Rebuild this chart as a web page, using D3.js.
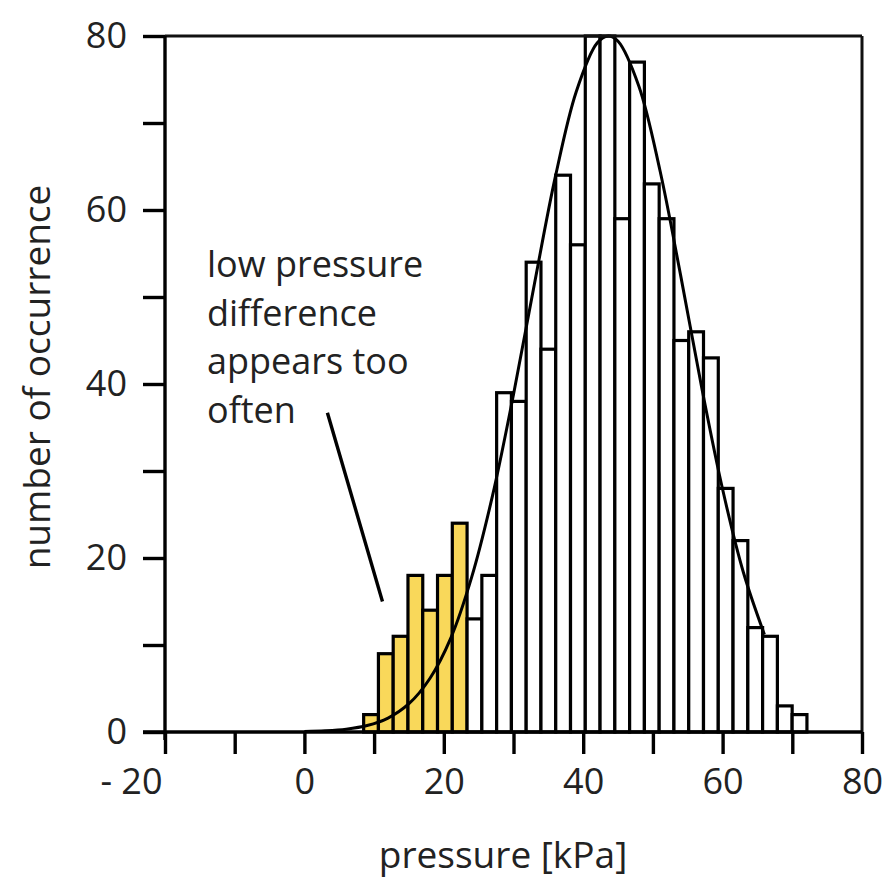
<!DOCTYPE html>
<html>
<head>
<meta charset="utf-8">
<script src="https://cdn.jsdelivr.net/npm/d3@7"></script>
<style>
  html, body { margin: 0; padding: 0; background: #ffffff; }
  svg { display: block; }
</style>
</head>
<body>
<script>
// ---- data ----
const binStart = 8.5;      // kPa, left edge of first bin
const binWidth = 2.12;     // kPa per bin
const counts = [2, 9, 11, 18, 14, 18, 24,
                13, 18, 39, 38, 54, 44, 64, 56, 80, 80, 59, 77, 63, 59,
                45, 46, 43, 28, 22, 12, 11, 3, 2];
const highlightedBins = 7; // first bins drawn in yellow
const curveX = [0, 3, 6, 9, 12, 15, 18, 21, 24, 27, 30, 33, 36, 39, 42, 43.6, 45, 48, 51, 54, 57, 60, 63, 66];
const curveY = [0.05, 0.13, 0.32, 0.74, 1.6, 3.25, 6.15, 10.8, 17.8, 27.2, 38.8, 51.5, 63.8, 73.6, 79.2, 80, 79.4, 74.2, 64.6, 52.4, 39.6, 27.9, 18.3, 11.2];
const xTicks = [-20, -10, 0, 10, 20, 30, 40, 50, 60, 70, 80];
const xTickLabels = ["- 20", "", "0", "", "20", "", "40", "", "60", "", "80"];
const yTicks = [0, 10, 20, 30, 40, 50, 60, 70, 80];
const yTickLabels = ["0", "", "20", "", "40", "", "60", "", "80"];
const annotationLines = ["low pressure", "difference", "appears too", "often"];
const annotationPointer = [[3.3, 36.7], [11.2, 15.0]]; // [kPa, count] start -> end
const xTitle = "pressure [kPa]";
const yTitle = "number of occurrence";

// ---- layout ----
const W = 884, H = 885;
const mLeft = 165, mRight = 862, mTop = 36, mBottom = 732;
const font = "'Open Sans', 'DejaVu Sans', sans-serif";
const textColor = "#222";

const svg = d3.select("body").append("svg").attr("width", W).attr("height", H);

const x = d3.scaleLinear().domain([-20, 80]).range([mLeft, mRight]);
const y = d3.scaleLinear().domain([0, 80]).range([mBottom, mTop]);

// bars
const bars = counts.map((c, i) => ({
  x0: binStart + i * binWidth,
  x1: binStart + (i + 1) * binWidth,
  c: c,
  hi: i < highlightedBins
}));
svg.append("g").selectAll("rect").data(bars).join("rect")
  .attr("x", d => x(d.x0))
  .attr("y", d => y(Math.min(d.c, 80)))
  .attr("width", d => x(d.x1) - x(d.x0))
  .attr("height", d => y(0) - y(Math.min(d.c, 80)))
  .attr("fill", d => d.hi ? "#f9d85a" : "#ffffff")
  .attr("stroke", "#000")
  .attr("stroke-width", 3.2);

// fitted curve
const line = d3.line().x(d => x(d[0])).y(d => y(d[1])).curve(d3.curveCatmullRom);
svg.append("path")
  .datum(curveX.map((v, i) => [v, curveY[i]]))
  .attr("d", line)
  .attr("fill", "none")
  .attr("stroke", "#000")
  .attr("stroke-width", 3);

// frame (top + right)
svg.append("line").attr("x1", mLeft).attr("x2", mRight).attr("y1", mTop).attr("y2", mTop)
  .attr("stroke", "#111").attr("stroke-width", 3);
svg.append("line").attr("x1", mRight).attr("x2", mRight).attr("y1", mTop).attr("y2", mBottom)
  .attr("stroke", "#111").attr("stroke-width", 3);

// x axis
const xAxis = d3.axisBottom(x).tickValues(xTicks).tickSize(22).tickPadding(14)
  .tickFormat((d, i) => xTickLabels[i]);
const gx = svg.append("g").attr("transform", `translate(0,${mBottom})`).call(xAxis);
gx.select(".domain").attr("d", `M${mLeft - 22},0H${mRight}`);
gx.selectAll("line, path").attr("stroke", "#000").attr("stroke-width", 3.4);
gx.selectAll("text").attr("font-family", font).attr("font-size", 36).attr("fill", textColor);
gx.selectAll(".tick text").filter(d => d === -20).attr("text-anchor", "end").attr("dx", -3);

// y axis
const yAxis = d3.axisLeft(y).tickValues(yTicks).tickSize(22).tickPadding(16)
  .tickFormat((d, i) => yTickLabels[i]);
const gy = svg.append("g").attr("transform", `translate(${mLeft},0)`).call(yAxis);
gy.select(".domain").attr("d", `M0,${mTop}V${mBottom + 8}`);
gy.selectAll("line, path").attr("stroke", "#000").attr("stroke-width", 3.4);
gy.selectAll("text").attr("font-family", font).attr("font-size", 36).attr("fill", textColor);

// axis titles
svg.append("text")
  .attr("x", 503).attr("y", 868)
  .attr("text-anchor", "middle")
  .attr("font-family", font).attr("font-size", 37).attr("fill", textColor)
  .text(xTitle);
svg.append("text")
  .attr("transform", `translate(50,377) rotate(-90)`)
  .attr("text-anchor", "middle")
  .attr("font-family", font).attr("font-size", 37).attr("fill", textColor)
  .text(yTitle);

// annotation
const ann = svg.append("text")
  .attr("font-family", font).attr("font-size", 36).attr("fill", textColor);
annotationLines.forEach((t, i) => {
  ann.append("tspan").attr("x", 207).attr("y", 277 + i * 48.5).text(t);
});
svg.append("line")
  .attr("x1", x(annotationPointer[0][0])).attr("y1", y(annotationPointer[0][1]))
  .attr("x2", x(annotationPointer[1][0])).attr("y2", y(annotationPointer[1][1]))
  .attr("stroke", "#000").attr("stroke-width", 3.4);
</script>
</body>
</html>
